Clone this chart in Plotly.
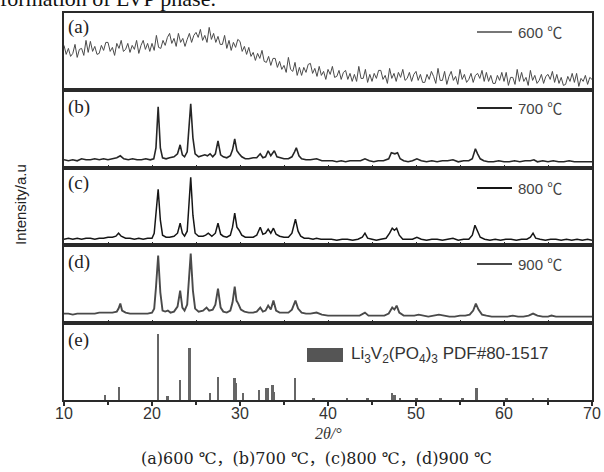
import plotly.graph_objects as go
from plotly.subplots import make_subplots

# ---------------- data (2θ in degrees, intensity in arbitrary units) ----------------
intensity_a = [
    45, 36, 42, 34, 37, 46, 33, 41, 42, 35, 50, 38, 49, 39, 44, 36, 37, 45, 40, 48,
    48, 39, 43, 35, 47, 42, 50, 39, 41, 47, 38, 45, 41, 50, 37, 45, 50, 41, 47, 39,
    47, 40, 55, 43, 42, 50, 45, 53, 57, 47, 52, 44, 57, 48, 52, 44, 51, 57, 48, 55,
    58, 53, 61, 50, 55, 48, 63, 51, 57, 48, 54, 46, 46, 55, 42, 50, 40, 48, 43, 51,
    49, 39, 44, 36, 43, 34, 38, 30, 37, 32, 40, 29, 28, 34, 25, 32, 32, 23, 29, 21,
    25, 18, 33, 21, 19, 28, 15, 23, 15, 23, 18, 26, 27, 17, 22, 14, 24, 15, 19, 11,
    21, 16, 24, 13, 14, 20, 11, 18, 20, 11, 17, 9, 16, 9, 24, 12, 12, 21, 8, 16,
    9, 17, 12, 20, 20, 11, 15, 7, 22, 12, 17, 9, 18, 13, 21, 10, 12, 18, 9, 16,
    19, 10, 16, 8, 8, 16, 11, 19, 14, 7, 22, 10, 10, 19, 6, 14, 19, 10, 14, 6,
    21, 11, 16, 8, 11, 17, 8, 15, 17, 12, 20, 9, 18, 9, 15, 7, 7, 15, 10, 18,
    9, 18, 5, 13, 13, 6, 21, 9, 18, 9, 13, 5, 20, 10, 15, 7, 10, 16, 7, 14,
    16, 11, 19, 8, 16, 7, 13, 5, 6, 14, 9, 17, 8, 17, 4, 12, 9, 15, 6, 13, 11,
]
step_a = 0.25
two_theta_a = [10 + step_a * i for i in range(len(intensity_a))]

pattern_b = [
    (10.0, 8), (10.5, 7), (11.0, 8), (11.5, 7), (12.0, 9), (12.5, 8), (13.0, 8), (13.5, 9),
    (14.0, 8), (14.5, 9), (15.0, 8), (15.5, 9), (16.0, 10), (16.4, 12), (16.8, 9), (17.3, 8),
    (17.8, 9), (18.3, 8), (18.8, 8), (19.3, 9), (19.8, 8), (20.2, 9), (20.45, 20), (20.7, 61),
    (20.95, 20), (21.2, 10), (21.6, 9), (22.0, 10), (22.5, 11), (22.9, 14), (23.2, 23),
    (23.45, 13), (23.7, 11), (24.0, 16), (24.15, 35), (24.4, 64), (24.65, 30), (24.9, 14),
    (25.3, 11), (25.7, 12), (26.0, 13), (26.3, 12), (26.6, 14), (26.9, 11), (27.2, 14),
    (27.5, 27), (27.8, 13), (28.1, 11), (28.5, 10), (28.9, 12), (29.15, 18), (29.4, 29),
    (29.65, 17), (29.9, 14), (30.2, 11), (30.6, 9), (31.0, 9), (31.5, 10), (31.9, 10),
    (32.3, 14), (32.6, 10), (32.9, 11), (33.2, 17), (33.5, 12), (33.9, 17), (34.2, 11),
    (34.6, 10), (35.0, 9), (35.5, 9), (35.9, 11), (36.2, 16), (36.4, 20), (36.7, 12),
    (37.0, 9), (37.5, 8), (38.0, 8), (38.7, 9), (39.3, 7), (40.0, 7), (40.5, 7), (41.0, 6),
    (41.5, 7), (42.0, 6), (42.5, 7), (43.0, 7), (43.7, 7), (44.2, 9), (44.7, 7), (45.2, 6),
    (45.7, 7), (46.3, 7), (46.9, 9), (47.2, 15), (47.6, 14), (47.9, 15), (48.2, 9), (48.6, 7),
    (49.1, 6), (49.6, 7), (50.1, 9), (50.6, 7), (51.2, 6), (51.8, 7), (52.4, 6), (53.0, 7),
    (53.6, 7), (54.2, 8), (54.8, 6), (55.4, 7), (56.0, 7), (56.4, 9), (56.75, 19), (57.0, 14),
    (57.3, 9), (57.7, 7), (58.2, 6), (58.8, 6), (59.4, 7), (60.0, 6), (60.6, 6), (61.2, 7),
    (61.8, 6), (62.4, 7), (63.0, 7), (63.4, 8), (63.8, 6), (64.4, 7), (65.0, 6), (65.6, 7),
    (66.2, 6), (66.8, 6), (67.4, 7), (68.0, 6), (68.6, 6), (69.2, 6), (70.0, 6),
]

pattern_c = [
    (10.0, 6), (10.5, 7), (11.0, 6), (11.5, 7), (12.0, 6), (12.5, 7), (13.0, 7), (13.5, 6),
    (14.0, 7), (14.5, 7), (15.0, 8), (15.5, 8), (15.9, 9), (16.2, 12), (16.5, 9), (17.0, 7),
    (17.5, 7), (18.0, 6), (18.5, 7), (19.0, 6), (19.5, 7), (20.0, 7), (20.25, 12), (20.45, 30),
    (20.7, 56), (20.95, 25), (21.2, 10), (21.6, 8), (22.0, 8), (22.5, 9), (22.9, 12), (23.2, 22),
    (23.45, 12), (23.7, 9), (24.0, 14), (24.15, 34), (24.4, 68), (24.65, 30), (24.9, 12),
    (25.3, 9), (25.8, 9), (26.1, 10), (26.4, 12), (26.8, 9), (27.2, 12), (27.5, 22), (27.8, 11),
    (28.1, 9), (28.5, 8), (28.9, 10), (29.15, 18), (29.4, 32), (29.65, 18), (29.9, 15),
    (30.2, 10), (30.6, 8), (31.0, 8), (31.5, 8), (31.9, 10), (32.3, 18), (32.6, 11), (32.9, 12),
    (33.2, 16), (33.5, 12), (33.8, 17), (34.1, 11), (34.5, 9), (35.0, 8), (35.5, 8), (35.9, 12),
    (36.3, 26), (36.6, 14), (36.9, 9), (37.3, 7), (37.8, 7), (38.3, 6), (38.7, 7), (39.2, 6),
    (39.8, 6), (40.4, 6), (41.0, 5), (41.6, 6), (42.2, 6), (42.8, 5), (43.4, 6), (43.9, 8),
    (44.2, 12), (44.5, 7), (45.0, 6), (45.5, 5), (46.0, 6), (46.6, 7), (47.0, 12), (47.3, 17),
    (47.55, 15), (47.8, 17), (48.1, 10), (48.5, 6), (49.0, 6), (49.6, 6), (50.1, 8), (50.6, 6),
    (51.2, 5), (51.8, 6), (52.4, 6), (53.0, 5), (53.6, 6), (54.2, 7), (54.8, 5), (55.4, 6),
    (56.0, 6), (56.4, 10), (56.7, 20), (57.0, 13), (57.3, 8), (57.8, 6), (58.4, 5), (59.0, 6),
    (59.6, 5), (60.2, 6), (60.8, 6), (61.4, 5), (62.0, 6), (62.6, 6), (63.0, 8), (63.3, 12),
    (63.6, 7), (64.1, 6), (64.7, 5), (65.3, 6), (65.9, 6), (66.5, 5), (67.1, 6), (67.7, 5),
    (68.3, 6), (68.9, 5), (69.5, 6), (70.0, 5),
]

pattern_d = [
    (10.0, 9), (10.5, 9), (11.0, 8), (11.5, 9), (12.0, 9), (12.5, 9), (13.0, 9), (13.5, 9),
    (14.0, 10), (14.5, 10), (15.0, 10), (15.5, 10), (16.0, 11), (16.2, 14), (16.4, 19),
    (16.6, 12), (17.0, 10), (17.5, 9), (18.0, 9), (18.5, 9), (19.0, 9), (19.5, 9), (20.0, 10),
    (20.25, 14), (20.45, 35), (20.7, 67), (20.95, 30), (21.2, 12), (21.5, 11), (21.8, 12),
    (22.1, 10), (22.5, 11), (22.9, 16), (23.2, 32), (23.45, 15), (23.7, 12), (24.0, 18),
    (24.15, 38), (24.4, 69), (24.65, 32), (24.9, 14), (25.3, 11), (25.8, 12), (26.2, 15),
    (26.5, 12), (26.9, 13), (27.2, 18), (27.5, 34), (27.8, 15), (28.1, 11), (28.5, 10),
    (28.9, 12), (29.15, 20), (29.4, 36), (29.6, 22), (29.8, 19), (30.1, 13), (30.5, 11),
    (31.0, 10), (31.5, 10), (31.9, 11), (32.3, 15), (32.6, 11), (32.9, 12), (33.2, 17),
    (33.5, 13), (33.8, 22), (34.1, 12), (34.5, 10), (35.0, 10), (35.5, 10), (35.9, 13),
    (36.3, 22), (36.6, 14), (37.0, 10), (37.5, 9), (38.0, 9), (38.7, 10), (39.3, 8), (40.0, 7),
    (40.6, 7), (41.2, 7), (41.8, 7), (42.4, 7), (43.0, 7), (43.6, 7), (44.2, 10), (44.6, 7),
    (45.2, 7), (45.8, 7), (46.4, 7), (46.9, 9), (47.3, 15), (47.55, 13), (47.8, 17), (48.1, 10),
    (48.6, 7), (49.2, 7), (49.8, 7), (50.3, 8), (50.8, 7), (51.4, 6), (52.0, 7), (52.6, 8),
    (53.2, 7), (53.8, 6), (54.4, 6), (55.0, 7), (55.6, 7), (56.1, 8), (56.5, 12), (56.8, 19),
    (57.1, 13), (57.5, 8), (58.0, 7), (58.6, 6), (59.2, 6), (59.8, 6), (60.4, 6), (61.0, 7),
    (61.6, 6), (62.2, 6), (62.8, 7), (63.3, 9), (63.8, 7), (64.4, 6), (65.0, 6), (65.4, 7),
    (65.9, 6), (66.5, 6), (67.1, 6), (67.7, 6), (68.3, 6), (68.9, 6), (69.5, 6), (70.0, 6),
]

# Li3V2(PO4)3 reference pattern (PDF#80-1517) sticks
stick_pos = [14.7, 16.3, 20.7, 21.8, 23.2, 24.3, 26.6, 27.5, 29.4, 29.6, 30.4, 32.2, 33.0,
             33.2, 33.7, 33.9, 36.3, 38.4, 42.2, 44.5, 47.3, 47.6, 48.2, 50.1, 52.8, 55.3,
             56.9, 60.3, 63.3, 65.0]
stick_h = [5, 13, 66, 4, 20, 52, 7, 23, 22, 17, 7, 10, 12, 12, 15, 8, 22, 2, 2, 2, 7, 5, 2,
           2, 2, 2, 12, 2, 2, 2]

panel_labels = ["(a)", "(b)", "(c)", "(d)", "(e)"]
temps = ["600 ℃", "700 ℃", "800 ℃", "900 ℃"]
tick_values = [10, 20, 30, 40, 50, 60, 70]

# ---------------- figure ----------------
fig = make_subplots(rows=5, cols=1, shared_xaxes=True, vertical_spacing=0)

line_colors = ["#4a4a4a", "#262626", "#161616", "#4a4a4a"]
line_widths = [1.0, 1.6, 1.5, 1.9]

series = [
    (two_theta_a, intensity_a),
    ([p[0] for p in pattern_b], [p[1] for p in pattern_b]),
    ([p[0] for p in pattern_c], [p[1] for p in pattern_c]),
    ([p[0] for p in pattern_d], [p[1] for p in pattern_d]),
]
for i, (xs, ys) in enumerate(series):
    fig.add_trace(go.Scatter(x=xs, y=ys, mode="lines",
                             line=dict(color=line_colors[i], width=line_widths[i])),
                  row=i + 1, col=1)

fig.add_trace(go.Bar(x=stick_pos, y=stick_h, width=0.22, marker_color="#666666",
                     marker_line_width=0), row=5, col=1)

axis_col = "#2a2a2a"
for r in range(1, 6):
    fig.update_yaxes(range=[0, 77.4], showline=True, linecolor=axis_col, linewidth=1.6,
                     mirror=True, showticklabels=False, ticks="", showgrid=False,
                     zeroline=False, automargin=False, row=r, col=1)
    if r < 5:
        fig.update_xaxes(range=[10, 70], showline=True, linecolor=axis_col, linewidth=1.6,
                         mirror=True, showgrid=False, zeroline=False, ticks="inside",
                         tick0=10, dtick=5, ticklen=3, tickcolor=axis_col,
                         showticklabels=False, automargin=False, row=r, col=1)
    else:
        fig.update_xaxes(range=[10, 70], showline=True, linecolor=axis_col, linewidth=1.8,
                         mirror=True, showgrid=False, zeroline=False, ticks="outside",
                         tickvals=tick_values, ticktext=[str(v) for v in tick_values],
                         ticklen=4, tickwidth=1.5, tickcolor=axis_col,
                         ticklabelstandoff=-6, automargin=False,
                         minor=dict(ticks="outside", dtick=5, tick0=10, ticklen=3,
                                    tickcolor=axis_col, tickwidth=1.5),
                         tickfont=dict(family="Liberation Sans, Arial", size=16,
                                       color="#333333"),
                         row=r, col=1)

# pixel helpers for paper coordinates
L, R, T, B = 64, 592, 13, 400
def px(xp):
    return (xp - L) / (R - L)
def py(yp):
    return (B - yp) / (B - T)

annotations = []
shapes = []

label_y = [27, 107, 183, 262, 340]
for lab, yy in zip(panel_labels, label_y):
    annotations.append(dict(text=lab, x=px(66), y=py(yy), xref="paper", yref="paper",
                            xanchor="left", yanchor="middle", showarrow=False,
                            font=dict(family="Liberation Serif, DejaVu Serif", size=19,
                                      color="#222222")))

legend_y = [32, 108, 188, 264]
for i, (t, yy) in enumerate(zip(temps, legend_y)):
    shapes.append(dict(type="line", xref="paper", yref="paper", x0=px(477), x1=px(512),
                       y0=py(yy), y1=py(yy),
                       line=dict(color=line_colors[i], width=line_widths[i] + 0.3)))
    annotations.append(dict(text=t, x=px(516), y=py(yy), xref="paper", yref="paper",
                            xanchor="left", yanchor="middle", showarrow=False,
                            font=dict(family="Liberation Sans, Noto Sans CJK SC", size=15,
                                      color="#444444")))

shapes.append(dict(type="rect", xref="paper", yref="paper", x0=px(307), x1=px(343),
                   y0=py(362), y1=py(348), fillcolor="#555555", line=dict(width=0)))
annotations.append(dict(
    text="Li<sub>3</sub>V<sub>2</sub>(PO<sub>4</sub>)<sub>3</sub> PDF#80-1517",
    x=px(349), y=py(355), xref="paper", yref="paper", xanchor="left", yanchor="middle",
    showarrow=False, font=dict(family="Liberation Sans, Arial", size=17, color="#333333")))

annotations.append(dict(text="Intensity/a.u", x=px(20), y=py(205), xref="paper",
                        yref="paper", xanchor="center", yanchor="middle", textangle=-90,
                        showarrow=False,
                        font=dict(family="Liberation Sans, Arial", size=15, color="#222222")))

annotations.append(dict(text="<i>2θ/°</i>", x=px(328), y=py(433), xref="paper",
                        yref="paper", xanchor="center", yanchor="middle", showarrow=False,
                        font=dict(family="Liberation Serif, DejaVu Serif", size=16,
                                  color="#333333")))

annotations.append(dict(text="(a)600 ℃，(b)700 ℃，(c)800 ℃，(d)900 ℃", x=px(316),
                        y=py(458), xref="paper", yref="paper", xanchor="center",
                        yanchor="middle", showarrow=False,
                        font=dict(family="DejaVu Serif, Noto Sans CJK SC", size=16,
                                  color="#222222")))

annotations.append(dict(text="formation of LVP phase.", x=px(-2), y=py(-1.5), xref="paper",
                        yref="paper", xanchor="left", yanchor="middle", showarrow=False,
                        font=dict(family="Liberation Serif, DejaVu Serif", size=22,
                                  color="#111111")))

fig.update_layout(width=604, height=472, margin=dict(l=L, r=604 - R, t=T, b=472 - B),
                  plot_bgcolor="white", paper_bgcolor="white", showlegend=False,
                  bargap=0, annotations=annotations, shapes=shapes)

fig.write_html("out.html", config={"displayModeBar": False},
               post_script="document.body.style.margin='0px';")
